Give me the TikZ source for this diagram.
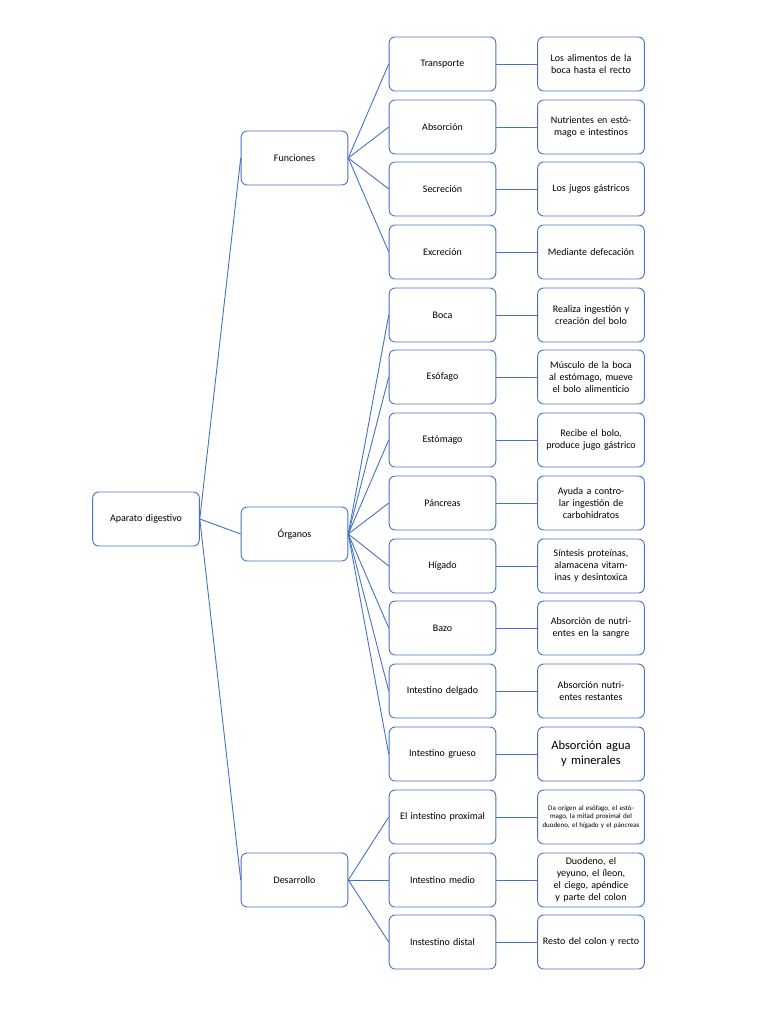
\documentclass[tikz,border=0pt]{standalone}
\usepackage{fontspec}
\setmainfont{Carlito}
\begin{document}
\begin{tikzpicture}[x=1pt,y=-1pt,
  box/.style={draw=bl,line width=0.9pt,rounded corners=6pt,minimum width=105pt,minimum height=54pt,align=center,font=\fontsize{10}{12}\selectfont,text width=100pt},
  ln/.style={draw=bl,line width=0.9pt}]
\definecolor{bl}{HTML}{4472C4}
\useasboundingbox (0,0) rectangle (768,1024);
\node[box] (root) at (146,519) {Aparato digestivo};
\node[box] (f) at (294.5,158) {Funciones};
\node[box] (o) at (294.5,534) {Órganos};
\node[box] (d) at (294.5,880) {Desarrollo};
\foreach \n/\y/\t/\r in {
 a1/64/Transporte/{Los alimentos de la boca hasta el recto},
 a2/127/Absorción/{Nutrientes en estómago e intestinos},
 a3/189/Secreción/{Los jugos gástricos},
 a4/252/Excreción/{Mediante defecación},
 b1/315/Boca/{Realiza ingestión y creación del bolo},
 b2/377/Esófago/{Músculo de la boca al estómago, mueve el bolo alimenticio},
 b3/440/Estómago/{Recibe el bolo, produce jugo gástrico},
 b4/503/Páncreas/{Ayuda a controlar ingestión de carbohidratos},
 b5/566/Hígado/{Síntesis proteínas, alamacena vitaminas y desintoxica},
 b6/628/Bazo/{Absorción de nutrientes en la sangre},
 b7/691/Intestino delgado/{Absorción nutrientes restantes},
 c2/880/Intestino medio/{Duodeno, el yeyuno, el íleon, el ciego, apéndice y parte del colon},
 c3/942/Instestino distal/{Resto del colon y recto}}{
  \node[box] (\n) at (442.5,\y) {\t};
  \node[box,minimum width=106pt] (r\n) at (591,\y) {\r};
  \draw[ln] (\n.east) -- (r\n.west);
}
\node[box] (b8) at (442.5,754) {Intestino grueso};
\node[box,minimum width=106pt,font=\fontsize{12.5}{15}\selectfont] (rb8) at (591,754) {Absorción agua y minerales};
\draw[ln] (b8.east) -- (rb8.west);
\node[box] (c1) at (442.5,817) {El intestino proximal};
\node[box,minimum width=106pt,font=\fontsize{7}{8.5}\selectfont] (rc1) at (591,817) {Da origen al esófago, el estómago, la mitad proximal del duodeno, el hígado y el páncreas};
\draw[ln] (c1.east) -- (rc1.west);
\foreach \x in {f,o,d} \draw[ln] (root.east) -- (\x.west);
\foreach \x in {a1,a2,a3,a4} \draw[ln] (f.east) -- (\x.west);
\foreach \x in {b1,b2,b3,b4,b5,b6,b7,b8} \draw[ln] (o.east) -- (\x.west);
\foreach \x in {c1,c2,c3} \draw[ln] (d.east) -- (\x.west);
\end{tikzpicture}
\end{document}
